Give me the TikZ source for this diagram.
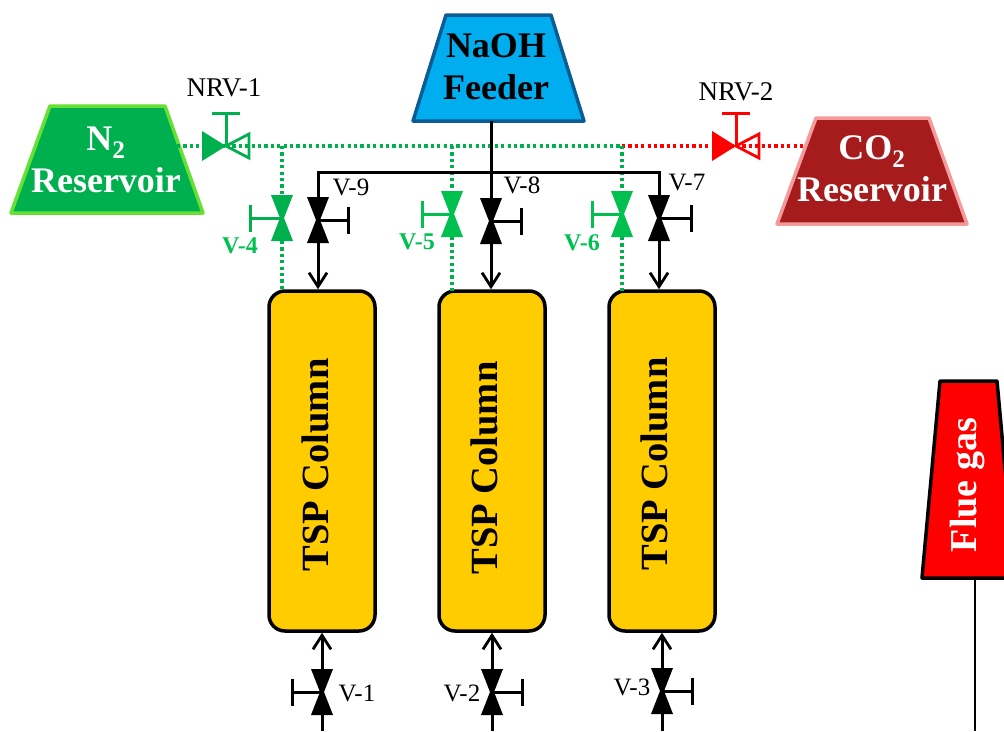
\documentclass[tikz,border=0pt]{standalone}
\usepackage{fontspec}
\setmainfont{Liberation Serif}
\usetikzlibrary{arrows.meta,calc}
\definecolor{gmain}{HTML}{00B04F}
\definecolor{gbright}{HTML}{00C050}
\definecolor{gedge}{HTML}{66E033}
\definecolor{bluefill}{HTML}{00AEEF}
\definecolor{blueedge}{HTML}{0B5C94}
\definecolor{co2fill}{HTML}{A61C1C}
\definecolor{co2edge}{HTML}{F59A9A}
\definecolor{colfill}{HTML}{FFCC00}
\tikzset{
  x=1pt,y=-1pt,
  tank/.style={line width=3.5pt,line join=round},
  tanktext/.style={inner sep=0pt,align=center,font=\fontsize{36}{42}\selectfont\bfseries},
  column/.style={draw=black,fill=colfill,line width=3.5pt,rounded corners=16pt,minimum width=106pt,minimum height=340pt,inner sep=0pt},
  coltext/.style={rotate=90,inner sep=0pt,font=\fontsize{38.5}{44}\selectfont\bfseries},
  tag/.style={font=\fontsize{25}{28}\selectfont,inner sep=0pt},
  nrvtag/.style={font=\fontsize{27}{30}\selectfont,inner sep=0pt},
  gtag/.style={font=\fontsize{24}{28}\selectfont\bfseries,inner sep=0pt,text=gbright},
  pipe/.style={line width=3pt},
  dots/.style={line width=3.2pt,dash pattern=on 3.2pt off 3.2pt},
  arr/.style={line width=3pt,-{Straight Barb[length=14pt,width=18pt,line width=2.8pt]}},
}
% \vvalve{name}{x}{y}{stem end x}{colour}: vertical globe valve with handle
\newcommand{\vvalve}[5]{%
  \coordinate (#1) at (#2,#3);
  \coordinate (#1t) at (#2,#3-23);
  \coordinate (#1b) at (#2,#3+23);
  \coordinate (#1h) at (#4,#3);
  \fill[#5] (#1t)++(-11,0) -- ++(22,0) -- (#2+2,#3) -- (#2-2,#3) -- cycle;
  \fill[#5] (#1b)++(-11,0) -- ++(22,0) -- (#2+2,#3) -- (#2-2,#3) -- cycle;
  \draw[#5,pipe] (#1) -- (#1h);
  \draw[#5,pipe] (#1h)++(0,-13.5) -- ++(0,27);
}
% \nrv{name}{x}{y}{colour}: check valve
\newcommand{\nrv}[4]{%
  \coordinate (#1) at (#2,#3);
  \coordinate (#1l) at (#2-23,#3);
  \coordinate (#1h) at (#2,#3-33);
  \fill[#4] (#2-24,#3-15) -- (#1) -- (#2-24,#3+15) -- cycle;
  \draw[#4,line width=2.8pt,line join=miter] (#2+23,#3-12) -- (#1) -- (#2+23,#3+12) -- cycle;
  \draw[#4,pipe] (#1) -- (#1h);
  \draw[#4,pipe] (#1h)++(-14,0) -- ++(28,0);
}
\begin{document}
\begin{tikzpicture}
\useasboundingbox (0,0) rectangle (1004,731);
% tanks
\path[tank,draw=gedge,fill=gmain] (50,106) -- (165,106) -- (203,213) -- (11,213) -- cycle;
\node[tanktext,text=white] (n2) at (106,160) {N\textsubscript{2}\\Reservoir};
\path[tank,draw=blueedge,fill=bluefill] (446,15) -- (551,15) -- (584,121) -- (413,121) -- cycle;
\node[tanktext,text=black] (naoh) at (496,67) {NaOH\\Feeder};
\path[tank,draw=co2edge,fill=co2fill] (816,118) -- (929,118) -- (967,224) -- (777,224) -- cycle;
\node[tanktext,text=white] (co2) at (872,169) {CO\textsubscript{2}\\Reservoir};
\path[draw=black,fill=red,line width=3.5pt,line join=round] (940,381) -- (997,381) -- (1015,578) -- (922,578) -- cycle;
\node[rotate=90,text=white,font=\fontsize{38}{44}\selectfont\bfseries,inner sep=0pt] (flue) at (967,485) {Flue gas};
\coordinate (flueb) at (975,578);
\coordinate (flued) at (975,731);
\coordinate (naohb) at (491,121);
% columns
\node[column] (c1) at (322,461) {};
\node[column] (c2) at (492,461) {};
\node[column] (c3) at (662,461) {};
\node[coltext] (t1) at (315,465) {TSP Column};
\node[coltext] (t2) at (484,468) {TSP Column};
\node[coltext] (t3) at (654,464) {TSP Column};
% gas lines
\coordinate (jn1) at (282,146);
\coordinate (jn2) at (452,146);
\coordinate (jn3) at (622,146);
\coordinate (n2out) at (177,146);
\coordinate (co2out) at (803,146);
\coordinate (nrvam) at (226,146);
\coordinate (nrvbm) at (736,146);
\draw[gmain,dots] (n2out) -- (nrvam);
\draw[gmain,dots] (nrvam) -- (jn3);
\draw[red,dots] (jn3) -- (nrvbm);
\draw[red,dots] (nrvbm) -- (co2out);
% valves
\nrv{nrva}{226}{146}{gmain}
\nrv{nrvb}{736}{146}{red}
\vvalve{v4}{282}{218}{250}{gmain}
\vvalve{v5}{452}{214}{422}{gbright}
\vvalve{v6}{622}{214}{592}{gbright}
\vvalve{v9}{318}{220}{348}{black}
\vvalve{v8}{491}{221}{521}{black}
\vvalve{v7}{659}{218}{691}{black}
\vvalve{v1}{322}{692}{292}{black}
\vvalve{v2}{492}{692}{522}{black}
\vvalve{v3}{662}{691}{692}{black}
\draw[gmain,dots] (jn1) -- (v4t);
\draw[gmain,dots] (v4b) -- (282,291);
\draw[gmain,dots] (jn2) -- (v5t);
\draw[gmain,dots] (v5b) -- (452,291);
\draw[gmain,dots] (jn3) -- (v6t);
\draw[gmain,dots] (v6b) -- (622,291);
% NaOH lines
\coordinate (hl) at (318,172);
\coordinate (hr) at (659,172);
\draw[pipe] (naohb) -- (v8t);
\draw[pipe] (v9t) -- (hl) -- (hr) -- (v7t);
\draw[arr] (v9b) -- (c1.north -| v9);
\draw[arr] (v8b) -- (c2.north -| v8);
\draw[arr] (v7b) -- (c3.north -| v7);
% bottom
\draw[arr] (v1t) -- (c1.south);
\draw[arr] (v2t) -- (c2.south);
\draw[arr] (v3t) -- (c3.south);
\coordinate (d1) at (322,731);
\coordinate (d2) at (492,731);
\coordinate (d3) at (662,731);
\draw[pipe] (v1b) -- (d1);
\draw[pipe] (v2b) -- (d2);
\draw[pipe] (v3b) -- (d3);
\draw[line width=2.5pt] (flueb) -- (flued);
% labels
\node[nrvtag] (ln1) at (224,88) {NRV-1};
\node[nrvtag] (ln2) at (736,92) {NRV-2};
\node[tag] (l9) at (351,187) {V-9};
\node[tag] (l8) at (522,185) {V-8};
\node[tag] (l7) at (687,183) {V-7};
\node[gtag] (l4) at (240,246) {V-4};
\node[gtag] (l5) at (417,242) {V-5};
\node[gtag] (l6) at (582,243) {V-6};
\node[tag] (l1) at (357,693) {V-1};
\node[tag] (l2) at (462,693) {V-2};
\node[tag] (l3) at (632,687) {V-3};
\end{tikzpicture}
\end{document}
